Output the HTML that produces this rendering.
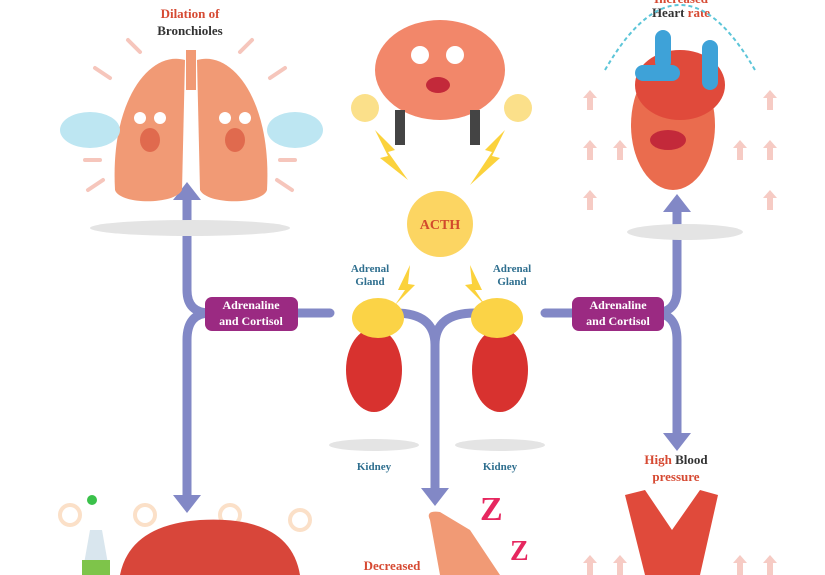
<!DOCTYPE html>
<html><head><meta charset="utf-8"><style>
html,body{margin:0;padding:0;background:#fff}
svg{display:block}
text{font-family:"Liberation Serif",serif;font-weight:bold}
</style></head><body>
<svg width="825" height="575" viewBox="0 0 825 575" xmlns="http://www.w3.org/2000/svg">
<defs>
<g id="up"><path d="M-3 0 V-12 H-7 L0 -20 L7 -12 H3 V0 Z" fill="#f6cbc4"/></g>
</defs>
<!-- connectors -->
<g fill="none" stroke="#8288c6" stroke-width="9" stroke-linecap="round">
<path d="M187 200 V290 Q187 313 210 313 H330"/>
<path d="M187 495 V340 Q187 313 210 313"/>
<path d="M677 210 V290 Q677 313 654 313 H545"/>
<path d="M677 435 V340 Q677 313 654 313"/>
<path d="M395 313 Q435 313 435 345 V490"/>
<path d="M475 313 Q435 313 435 345"/>
</g>
<g fill="#8288c6">
<path d="M173 200 L187 182 L201 200 Z"/>
<path d="M173 495 L187 513 L201 495 Z"/>
<path d="M663 212 L677 194 L691 212 Z"/>
<path d="M663 433 L677 451 L691 433 Z"/>
<path d="M421 488 L435 506 L449 488 Z"/>
</g>
<!-- labels -->
<rect x="205" y="297" width="93" height="34" rx="7" fill="#9b2a82"/>
<text x="251" y="309" font-size="12" fill="#fff" text-anchor="middle">Adrenaline</text>
<text x="251" y="325" font-size="12" fill="#fff" text-anchor="middle">and Cortisol</text>
<rect x="572" y="297" width="92" height="34" rx="7" fill="#9b2a82"/>
<text x="618" y="309" font-size="12" fill="#fff" text-anchor="middle">Adrenaline</text>
<text x="618" y="325" font-size="12" fill="#fff" text-anchor="middle">and Cortisol</text>
<!-- ACTH -->
<circle cx="440" cy="224" r="33" fill="#fcd562"/>
<text x="440" y="229" font-size="14" fill="#d24a2c" text-anchor="middle">ACTH</text>
<g fill="#fbd23c">
<path d="M375 130 L395 150 L388 152 L408 180 L380 158 L388 156 Z"/>
<path d="M505 130 L485 150 L492 152 L470 185 L500 158 L492 156 Z"/>
<path d="M410 265 L398 290 L405 290 L395 305 L415 285 L408 284 Z"/>
<path d="M470 265 L482 290 L475 290 L485 305 L465 285 L472 284 Z"/>
</g>
<!-- top texts -->
<text x="190" y="18" font-size="13" fill="#d64a33" text-anchor="middle">Dilation of</text>
<text x="190" y="35" font-size="13" fill="#333" text-anchor="middle">Bronchioles</text>
<text x="681" y="3" font-size="13" fill="#d64a33" text-anchor="middle">Increased</text>
<text x="681" y="17" font-size="13" text-anchor="middle"><tspan fill="#333">Heart</tspan><tspan fill="#d64a33"> rate</tspan></text>
<text x="370" y="272" font-size="11" fill="#2f6f8f" text-anchor="middle">Adrenal</text>
<text x="370" y="285" font-size="11" fill="#2f6f8f" text-anchor="middle">Gland</text>
<text x="512" y="272" font-size="11" fill="#2f6f8f" text-anchor="middle">Adrenal</text>
<text x="512" y="285" font-size="11" fill="#2f6f8f" text-anchor="middle">Gland</text>
<text x="374" y="470" font-size="11" fill="#2f6f8f" text-anchor="middle">Kidney</text>
<text x="500" y="470" font-size="11" fill="#2f6f8f" text-anchor="middle">Kidney</text>
<text x="676" y="464" font-size="13" text-anchor="middle"><tspan fill="#d64a33">High</tspan><tspan fill="#333"> Blood</tspan></text>
<text x="676" y="481" font-size="13" fill="#d64a33" text-anchor="middle">pressure</text>
<text x="392" y="570" font-size="13" fill="#d64a33" text-anchor="middle">Decreased</text>
<!-- lungs decor -->
<g stroke="#f6c6bc" stroke-width="4" stroke-linecap="round">
<path d="M128 40 L140 52"/><path d="M252 40 L240 52"/><path d="M95 68 L110 78"/><path d="M285 68 L270 78"/>
<path d="M88 190 L103 180"/><path d="M292 190 L277 180"/><path d="M85 160 L100 160"/><path d="M295 160 L280 160"/>
</g>
<!-- lungs -->
<ellipse cx="190" cy="228" rx="100" ry="8" fill="#e4e4e4"/>
<path d="M185 60 C150 50 110 100 115 190 C120 205 175 205 182 190 Z" fill="#f19a75"/>
<path d="M197 60 C232 50 272 100 267 190 C262 205 207 205 200 190 Z" fill="#f19a75"/>
<rect x="186" y="50" width="10" height="40" fill="#f19a75"/>
<ellipse cx="90" cy="130" rx="30" ry="18" fill="#bde6f2"/>
<ellipse cx="295" cy="130" rx="28" ry="18" fill="#bde6f2"/>
<circle cx="140" cy="118" r="6" fill="#fff"/><circle cx="160" cy="118" r="6" fill="#fff"/>
<circle cx="225" cy="118" r="6" fill="#fff"/><circle cx="245" cy="118" r="6" fill="#fff"/>
<ellipse cx="150" cy="140" rx="10" ry="12" fill="#e06a4e"/><ellipse cx="235" cy="140" rx="10" ry="12" fill="#e06a4e"/>
<!-- brain -->
<ellipse cx="440" cy="70" rx="65" ry="50" fill="#f2876a"/>
<rect x="395" y="110" width="10" height="35" fill="#444"/><rect x="470" y="110" width="10" height="35" fill="#444"/>
<circle cx="365" cy="108" r="14" fill="#fbe08a"/><circle cx="518" cy="108" r="14" fill="#fbe08a"/>
<circle cx="420" cy="55" r="9" fill="#fff"/><circle cx="455" cy="55" r="9" fill="#fff"/>
<ellipse cx="438" cy="85" rx="12" ry="8" fill="#c3293a"/>
<!-- heart -->
<ellipse cx="685" cy="232" rx="58" ry="8" fill="#e4e4e4"/>
<path d="M605 70 Q680 -60 755 70" fill="none" stroke="#5cc5d8" stroke-width="2" stroke-dasharray="4 3"/>
<g transform="translate(590 160)"><use href="#up"/></g>
<g transform="translate(620 160)"><use href="#up"/></g>
<g transform="translate(740 160)"><use href="#up"/></g>
<g transform="translate(770 160)"><use href="#up"/></g>
<g transform="translate(590 110)"><use href="#up"/></g>
<g transform="translate(770 110)"><use href="#up"/></g>
<g transform="translate(590 210)"><use href="#up"/></g>
<g transform="translate(770 210)"><use href="#up"/></g>
<ellipse cx="673" cy="125" rx="42" ry="65" fill="#ea6c4e"/>
<ellipse cx="680" cy="85" rx="45" ry="35" fill="#e04a3b"/>
<rect x="655" y="30" width="16" height="40" rx="8" fill="#3ea2d8"/>
<rect x="702" y="40" width="16" height="50" rx="8" fill="#3ea2d8"/>
<rect x="635" y="65" width="45" height="16" rx="8" fill="#3ea2d8"/>
<ellipse cx="668" cy="140" rx="18" ry="10" fill="#c3293a"/>
<!-- kidneys -->
<ellipse cx="374" cy="445" rx="45" ry="6" fill="#e4e4e4"/>
<ellipse cx="500" cy="445" rx="45" ry="6" fill="#e4e4e4"/>
<ellipse cx="374" cy="370" rx="28" ry="42" fill="#d8322f"/>
<ellipse cx="500" cy="370" rx="28" ry="42" fill="#d8322f"/>
<ellipse cx="378" cy="318" rx="26" ry="20" fill="#fbd346"/>
<ellipse cx="497" cy="318" rx="26" ry="20" fill="#fbd346"/>
<!-- bottom -->
<g transform="translate(590 575)"><use href="#up"/></g><g transform="translate(620 575)"><use href="#up"/></g>
<g transform="translate(740 575)"><use href="#up"/></g><g transform="translate(770 575)"><use href="#up"/></g>
<path d="M625 495 L645 490 L672 530 L700 490 L718 495 L700 575 L645 575 Z" fill="#e04a3b"/>
<path d="M430 520 Q425 510 440 512 L470 530 L500 575 L440 575 Z" fill="#f19a75"/>
<text x="480" y="520" font-size="34" font-family="Liberation Sans" fill="#e6275f">Z</text><text x="510" y="560" font-size="28" font-family="Liberation Sans" fill="#e6275f">Z</text>
<g fill="none" stroke="#fbe0c8" stroke-width="4">
<circle cx="70" cy="515" r="10"/><circle cx="145" cy="515" r="10"/><circle cx="230" cy="515" r="10"/><circle cx="300" cy="520" r="10"/>
</g>
<path d="M120 575 Q130 525 200 520 Q290 515 300 575 Z" fill="#d8463a"/>
<path d="M82 575 L90 530 L102 530 L110 575 Z" fill="#d9e6ee"/>
<rect x="82" y="560" width="28" height="15" fill="#7ec44a"/>
<circle cx="92" cy="500" r="5" fill="#3ac14a"/>
</svg>
</body></html>
